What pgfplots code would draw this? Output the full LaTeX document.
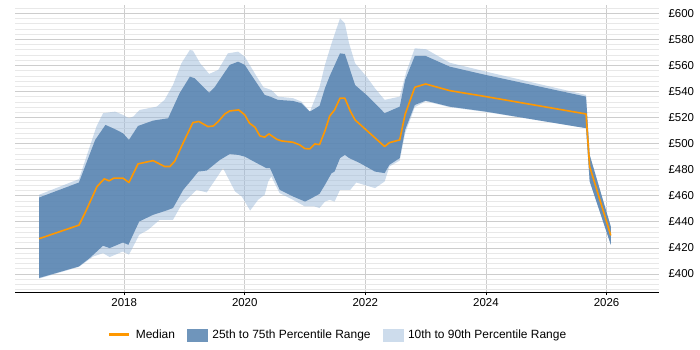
\documentclass[border=0pt]{standalone}
\usepackage{fontspec}
\setmainfont{Liberation Sans}
\usepackage{pgfplots}
\usepackage{pgfplotstable}
\pgfplotsset{compat=1.18}
\usepgfplotslibrary{fillbetween}

\definecolor{medianorange}{RGB}{255,152,0}
\definecolor{iqrblue}{RGB}{86,130,175}
\definecolor{decileblue}{RGB}{155,185,217}
\definecolor{iqrkey}{RGB}{111,149,187}
\definecolor{decilekey}{RGB}{205,220,236}
\definecolor{majgrid}{RGB}{205,205,205}
\definecolor{mingrid}{RGB}{232,232,232}

% median daily rate
\pgfplotstableread{
x y
2016.59 427.1
2017.25 437.5
2017.35 446.7
2017.55 467.1
2017.67 473.0
2017.75 471.5
2017.83 473.6
2017.98 473.6
2018.08 470.2
2018.23 484.5
2018.48 487.0
2018.67 482.5
2018.76 482.5
2018.84 486.6
2018.95 497.8
2019.14 516.2
2019.24 517.0
2019.39 513.1
2019.48 513.6
2019.56 517.0
2019.67 522.8
2019.75 525.1
2019.90 525.9
2020.00 522.1
2020.08 515.7
2020.17 512.6
2020.25 506.0
2020.33 505.0
2020.40 507.5
2020.53 503.4
2020.61 502.1
2020.80 501.1
2020.91 499.1
2021.00 496.2
2021.08 496.0
2021.16 499.8
2021.24 499.3
2021.33 509.8
2021.41 521.3
2021.49 525.9
2021.58 534.9
2021.66 534.9
2021.75 525.0
2021.83 518.2
2022.32 497.8
2022.40 500.8
2022.57 502.9
2022.66 522.6
2022.82 543.3
2023.00 545.8
2023.40 540.7
2024.00 536.1
2025.66 522.8
2025.72 482.5
2026.07 429.6
}\median

% 75th percentile
\pgfplotstableread{
x y
2016.59 458.7
2017.25 470.2
2017.52 502.9
2017.69 514.4
2017.85 511.1
2017.98 508.0
2018.08 502.9
2018.23 513.6
2018.48 517.7
2018.73 519.5
2018.92 538.7
2019.09 551.4
2019.17 550.2
2019.41 539.1
2019.50 543.3
2019.75 560.4
2019.89 562.9
2020.00 560.4
2020.20 546.4
2020.33 537.4
2020.42 536.1
2020.55 533.6
2020.80 532.8
2020.94 531.0
2021.08 524.6
2021.24 529.0
2021.33 542.5
2021.41 552.0
2021.58 569.3
2021.66 568.8
2021.73 559.1
2021.83 545.0
2022.05 536.1
2022.32 523.4
2022.57 528.4
2022.66 548.9
2022.82 567.3
2023.00 567.3
2023.40 559.1
2024.00 552.7
2025.66 536.1
2025.72 491.4
2026.07 436.5
}\upperq

% 25th percentile
\pgfplotstableread{
x y
2016.59 397.0
2017.25 405.8
2017.43 412.3
2017.65 421.7
2017.76 419.9
2017.98 424.2
2018.07 422.4
2018.25 440.3
2018.48 445.4
2018.70 448.7
2018.81 450.6
2018.98 464.6
2019.12 472.3
2019.23 478.6
2019.37 479.4
2019.59 487.6
2019.75 492.0
2019.89 491.4
2020.00 490.1
2020.20 485.1
2020.36 481.2
2020.42 481.2
2020.58 464.6
2020.80 459.5
2021.00 455.6
2021.11 458.2
2021.24 461.5
2021.33 468.4
2021.44 477.4
2021.49 478.6
2021.58 488.9
2021.66 491.4
2021.73 489.0
2021.91 485.1
2022.16 478.6
2022.32 477.4
2022.40 483.8
2022.57 488.9
2022.66 510.6
2022.82 529.7
2023.00 533.0
2023.40 528.4
2024.00 524.6
2025.66 511.9
2025.72 471.0
2026.07 422.5
}\lowerq

% 90th percentile
\pgfplotstableread{
x y
2016.59 460.8
2017.25 472.8
2017.43 497.8
2017.54 513.1
2017.65 523.4
2017.85 524.6
2017.98 522.1
2018.08 519.5
2018.15 520.8
2018.26 525.9
2018.54 528.4
2018.67 533.6
2018.81 545.1
2018.95 561.7
2019.09 571.9
2019.14 571.4
2019.26 561.7
2019.41 553.5
2019.56 556.6
2019.72 569.3
2019.89 570.6
2020.00 566.7
2020.20 551.4
2020.31 543.3
2020.44 541.2
2020.55 536.1
2020.80 534.9
2020.94 532.3
2021.08 524.6
2021.24 543.3
2021.33 560.4
2021.44 577.0
2021.58 596.2
2021.66 592.3
2021.73 577.0
2021.83 561.7
2022.02 551.4
2022.16 542.5
2022.32 533.6
2022.57 536.1
2022.68 555.3
2022.82 573.2
2023.01 572.4
2023.40 562.1
2024.00 555.3
2025.66 537.4
2025.72 491.4
2026.07 436.5
}\upperd

% 10th percentile
\pgfplotstableread{
x y
2016.59 396.5
2017.25 405.5
2017.49 413.5
2017.65 416.0
2017.76 413.0
2017.98 417.3
2018.08 414.8
2018.25 430.1
2018.40 434.0
2018.59 441.6
2018.81 441.6
2018.95 453.1
2019.09 459.5
2019.20 464.6
2019.37 462.6
2019.64 481.2
2019.84 463.3
2019.95 459.5
2020.09 448.7
2020.22 456.9
2020.33 460.8
2020.39 471.0
2020.44 474.8
2020.58 462.0
2020.80 456.9
2021.00 451.8
2021.16 451.8
2021.24 450.6
2021.33 455.6
2021.41 456.9
2021.49 455.6
2021.58 464.6
2021.75 464.6
2021.85 470.2
2022.16 465.9
2022.32 471.0
2022.40 482.5
2022.57 487.0
2022.66 508.0
2022.82 528.0
2023.00 532.5
2023.40 528.0
2024.00 524.3
2025.66 511.9
2025.72 471.0
2026.07 422.5
}\lowerd

\begin{document}
\begin{tikzpicture}
\begin{axis}[
  name=ax,
  scale only axis,
  width=644bp, height=287bp,
  xmin=2016.19, xmax=2026.87,
  ymin=386.2, ymax=606.4,
  axis x line*=bottom,
  axis y line*=right,
  x axis line style={black, line width=0.9bp, -},
  y axis line style={draw=none},
  xtick={2018,2020,2022,2024,2026},
  ytick={400,420,...,600},
  minor ytick={388,392,...,604},
  xmajorgrids, ymajorgrids, yminorgrids,
  major grid style={majgrid, line width=0.8bp},
  minor grid style={mingrid, line width=0.8bp},
  tick align=outside,
  major tick length=3bp,
  xtick style={black, line width=0.8bp},
  ytick style={draw=none},
  minor tick length=0pt,
  /pgf/number format/assume math mode=true,
  tick label style={font=\fontsize{11.5}{13}\selectfont},
  xticklabel style={/pgf/number format/1000 sep={}},
  yticklabel={£\pgfmathprintnumber{\tick}},
  yticklabel style={anchor=west, xshift=3bp},
  legend columns=3,
  legend style={at={(0.5,-0.1498)}, anchor=center, draw=none, fill=none,
    font=\fontsize{12}{14}\selectfont,
    nodes={inner sep=0pt},
    /tikz/every odd column/.append style={column sep=5bp},
    /tikz/every even column/.append style={column sep=12bp}},
]
\addlegendimage{legend image code/.code={\draw[medianorange, line width=3bp] (0bp,0bp) -- (20bp,0bp);}}
\addlegendentry{Median}
\addlegendimage{legend image code/.code={\fill[iqrkey] (0bp,-6bp) rectangle (20bp,6bp);}}
\addlegendentry{25th to 75th Percentile Range}
\addlegendimage{legend image code/.code={\fill[decilekey] (0bp,-6bp) rectangle (20bp,6bp);}}
\addlegendentry{10th to 90th Percentile Range}

\addplot[draw=none, name path=ud, forget plot] table {\upperd};
\addplot[draw=none, name path=ld, forget plot] table {\lowerd};
\addplot[draw=none, name path=uq, forget plot] table {\upperq};
\addplot[draw=none, name path=lq, forget plot] table {\lowerq};
\addplot[fill=decileblue, fill opacity=0.5, draw=none, forget plot] fill between[of=ud and ld];
\addplot[fill=iqrblue, fill opacity=0.85, draw=none, forget plot] fill between[of=uq and lq];
\addplot[medianorange, line width=1.6bp, line join=round, forget plot] table {\median};
\end{axis}
\path[use as bounding box] ([xshift=-15bp,yshift=-58bp]ax.south west) rectangle ++(700bp,350bp);
\end{tikzpicture}
\end{document}
